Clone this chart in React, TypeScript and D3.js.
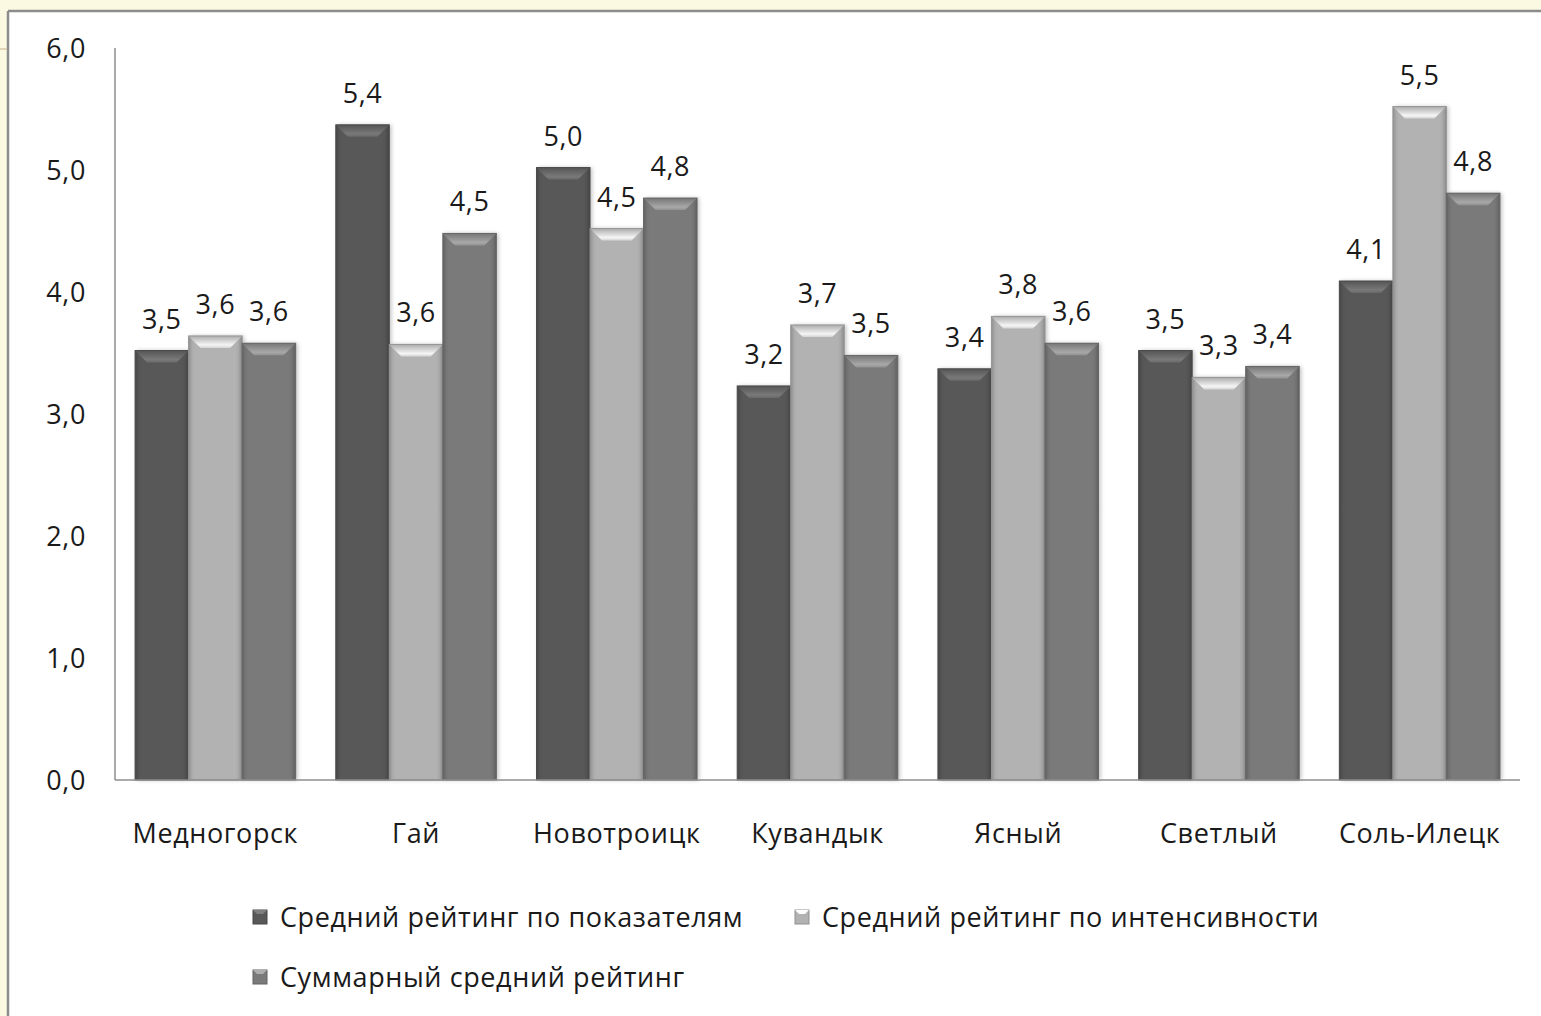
import React from 'react';
import * as d3 from 'd3';

const categories = ['Медногорск', 'Гай', 'Новотроицк', 'Кувандык', 'Ясный', 'Светлый', 'Соль-Илецк'];
const seriesNames = ['Средний рейтинг по показателям', 'Средний рейтинг по интенсивности', 'Суммарный средний рейтинг'];
const byIndicators = [3.52, 5.37, 5.02, 3.23, 3.37, 3.52, 4.09];
const byIntensity = [3.64, 3.57, 4.52, 3.73, 3.8, 3.3, 5.52];
const totalRating = [3.58, 4.48, 4.77, 3.48, 3.58, 3.39, 4.81];
const yTicks = [0, 1, 2, 3, 4, 5, 6];

const seriesValues = [byIndicators, byIntensity, totalRating];
const colors = ['#585858', '#b2b2b2', '#7a7a7a'];

const W = 1541;
const H = 1016;
const left = 115;
const right = 1520;
const top = 48;
const bottom = 780;
const font = '"Open Sans", "DejaVu Sans", sans-serif';
const fs = 27;
const ls = 0.6;

const fmt = (v: number) => v.toFixed(1).replace('.', ',');

export default function App() {
  const x = d3.scaleBand<string>().domain(categories).range([left, right]).paddingInner(0.2).paddingOuter(0.1);
  const xs = d3.scaleBand<number>().domain([0, 1, 2]).range([0, x.bandwidth()]);
  const y = d3.scaleLinear().domain([0, 6]).range([bottom, top]);

  const bevel = 12;
  const side = 12;

  return (
    <div style={{ position: 'fixed', left: 0, top: 0 }}>
      <svg width={W} height={H} style={{ display: 'block' }}>
        <defs>
          {colors.map((c, i) => {
            const base = d3.color(c)!;
            return (
              <React.Fragment key={i}>
                <linearGradient id={`top${i}`} x1="0" y1="0" x2="0" y2="1">
                  <stop offset="0" stopColor={base.darker(0.1).toString()} />
                  <stop offset="0.75" stopColor={base.brighter(0.9).toString()} />
                  <stop offset="1" stopColor={base.brighter(0.5).toString()} />
                </linearGradient>
                <linearGradient id={`body${i}`} x1="0" y1="0" x2="1" y2="0">
                  <stop offset="0" stopColor={base.darker(0.6).toString()} />
                  <stop offset="0.07" stopColor={base.darker(0.1).toString()} />
                  <stop offset="0.12" stopColor={c} />
                  <stop offset="0.88" stopColor={c} />
                  <stop offset="0.93" stopColor={base.darker(0.15).toString()} />
                  <stop offset="1" stopColor={base.darker(0.7).toString()} />
                </linearGradient>
              </React.Fragment>
            );
          })}
          <filter id="shadow" x="-20%" y="-5%" width="140%" height="110%">
            <feGaussianBlur in="SourceAlpha" stdDeviation="2" />
            <feOffset dx="2" dy="0" result="b" />
            <feComponentTransfer>
              <feFuncA type="linear" slope="0.25" />
            </feComponentTransfer>
            <feMerge>
              <feMergeNode />
              <feMergeNode in="SourceGraphic" />
            </feMerge>
          </filter>
        </defs>

        {/* page background and frame */}
        <rect x={0} y={0} width={W} height={H} fill="#fbf9e2" />
        <rect x={8} y={11} width={W} height={H} fill="#ffffff" />
        <line x1={8} y1={11} x2={W} y2={11} stroke="#8c8c8c" strokeWidth={2.5} />
        <line x1={8} y1={11} x2={8} y2={H} stroke="#8c8c8c" strokeWidth={2.5} />
        <line x1={0} y1={49} x2={7} y2={49} stroke="#d6c7a6" strokeWidth={1.5} />

        {/* y axis */}
        <line x1={left} y1={top} x2={left} y2={bottom} stroke="#8e8e8e" strokeWidth={1.5} />
        {yTicks.map(t => (
          <text key={t} x={86} y={y(t)} dy="0.36em" textAnchor="end" fontFamily={font} fontSize={fs} letterSpacing={ls} fill="#1a1a1a">
            {fmt(t)}
          </text>
        ))}

        {/* bars */}
        {categories.map((cat, ci) => (
          <g key={cat} transform={`translate(${x(cat)},0)`}>
            {seriesValues.map((vals, si) => {
              const bx = xs(si)!;
              const bw = xs.bandwidth();
              const by = y(vals[ci]);
              const bh = bottom - by;
              return (
                <g key={si}>
                  <g filter="url(#shadow)">
                    <rect x={bx} y={by} width={bw} height={bh} fill={`url(#body${si})`} />
                  </g>
                  <polygon
                    points={`${bx},${by} ${bx + bw},${by} ${bx + bw - side},${by + bevel} ${bx + side},${by + bevel}`}
                    fill={`url(#top${si})`}
                  />
                  <rect x={bx} y={by} width={bw} height={bh} fill="none" stroke={d3.color(colors[si])!.darker(0.5).toString()} strokeWidth={1} />
                  <text x={bx + bw / 2} y={by - 22} textAnchor="middle" fontFamily={font} fontSize={fs} letterSpacing={ls} fill="#1a1a1a">
                    {fmt(vals[ci])}
                  </text>
                </g>
              );
            })}
          </g>
        ))}

        {/* baseline */}
        <line x1={left} y1={bottom} x2={right} y2={bottom} stroke="#8e8e8e" strokeWidth={1.5} />

        {/* category labels */}
        {categories.map(cat => (
          <text key={cat} x={x(cat)! + x.bandwidth() / 2} y={833} dy="0.36em" textAnchor="middle" fontFamily={font} fontSize={fs} letterSpacing={ls} fill="#1a1a1a">
            {cat}
          </text>
        ))}

        {/* legend */}
        {[
          { i: 0, mx: 253, my: 917 },
          { i: 1, mx: 795, my: 917 },
          { i: 2, mx: 253, my: 977 },
        ].map(({ i, mx, my }) => (
          <g key={i}>
            <rect x={mx} y={my - 7} width={14} height={14} fill={colors[i]} stroke={d3.color(colors[i])!.darker(0.6).toString()} />
            <polygon points={`${mx},${my - 7} ${mx + 14},${my - 7} ${mx + 10},${my - 3} ${mx + 4},${my - 3}`} fill={d3.color(colors[i])!.brighter(1).toString()} />
            <text x={mx + 27} y={my} dy="0.36em" fontFamily={font} fontSize={fs} letterSpacing={ls} fill="#1a1a1a">
              {seriesNames[i]}
            </text>
          </g>
        ))}
      </svg>
    </div>
  );
}
